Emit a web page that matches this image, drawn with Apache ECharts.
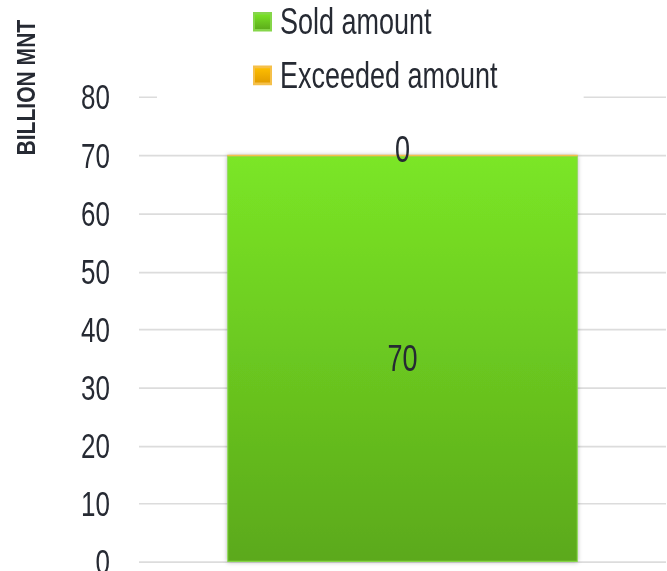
<!DOCTYPE html>
<html><head><meta charset="utf-8">
<script src="https://cdn.jsdelivr.net/npm/echarts@6/dist/echarts.min.js"></script>
<style>html{overflow:hidden}html,body{margin:0;padding:0;background:#fff}
#wrap{width:667px;height:571px;position:relative}
#c{position:absolute;left:0;top:0;width:667px;height:420px;transform:scaleY(1.3595);transform-origin:0 0}</style>
</head><body><div id="wrap"><div id="c"></div></div>
<script>
const categories = ['Total'];
const soldAmount = [70];
const exceededAmount = [0];
const yTicks = [0, 10, 20, 30, 40, 50, 60, 70, 80];
const axisTitle = 'BILLION MNT';
const seriesNames = ['Sold amount', 'Exceeded amount'];

const FONT = '"Liberation Sans", Arial, sans-serif';
const TXT = '#262a33';
const chart = echarts.init(document.getElementById('c'), null, {renderer: 'svg'});
const green = new echarts.graphic.LinearGradient(0, 0, 0, 1, [
  {offset: 0, color: '#7BE626'}, {offset: 1, color: '#5BA91A'}]);
const orange = new echarts.graphic.LinearGradient(0, 0, 0, 1, [
  {offset: 0, color: '#FFC000'}, {offset: 1, color: '#E09A00'}]);
chart.setOption({
  animation: false,
  backgroundColor: '#fff',
  textStyle: {fontFamily: FONT},
  legend: {
    orient: 'vertical', left: 157, top: 0,
    padding: [2.5, 86, 6, 96],
    backgroundColor: '#fff',
    itemWidth: 17, itemHeight: 12.5, itemGap: 12.5,
    icon: 'rect',
    textStyle: {fontSize: 27, color: TXT, fontFamily: FONT, padding: [0, 0, 0, 4]},
    data: seriesNames
  },
  graphic: [{
    type: 'text', left: 14, top: 14.5, rotation: Math.PI / 2, scaleX: 0.62,
    style: {text: axisTitle, font: 'bold 25px "Liberation Sans", Arial, sans-serif', fill: TXT}
  }],
  grid: {left: 139, right: 1, top: 71.7, bottom: 6.6, outerBoundsMode: 'none', containLabel: false},
  xAxis: {
    type: 'category', data: categories,
    axisLine: {show: false}, axisTick: {show: false}, axisLabel: {show: false}
  },
  yAxis: {
    type: 'value', min: yTicks[0], max: yTicks[yTicks.length - 1], interval: 10,
    axisLine: {show: false}, axisTick: {show: false},
    axisLabel: {fontSize: 26, color: TXT, margin: 29, fontFamily: FONT},
    splitLine: {lineStyle: {color: '#dcdcdc', width: 1.2}}
  },
  series: [{
    name: seriesNames[0], type: 'bar', stack: 's', data: soldAmount, barWidth: '66.5%',
    itemStyle: {color: green, borderColor: '#86d64a', borderWidth: 1,
      shadowColor: 'rgba(0,0,0,0.3)', shadowBlur: 4},
    label: {show: true, position: 'inside', fontSize: 27, color: TXT, fontFamily: FONT}
  }, {
    name: seriesNames[1], type: 'bar', stack: 's', data: exceededAmount, barWidth: '66.5%',
    itemStyle: {color: orange, borderColor: '#f5c04a', borderWidth: 1},
    label: {show: true, position: 'inside', offset: [0, -4.4], fontSize: 27, color: TXT, fontFamily: FONT}
  }]
});
</script></body></html>
